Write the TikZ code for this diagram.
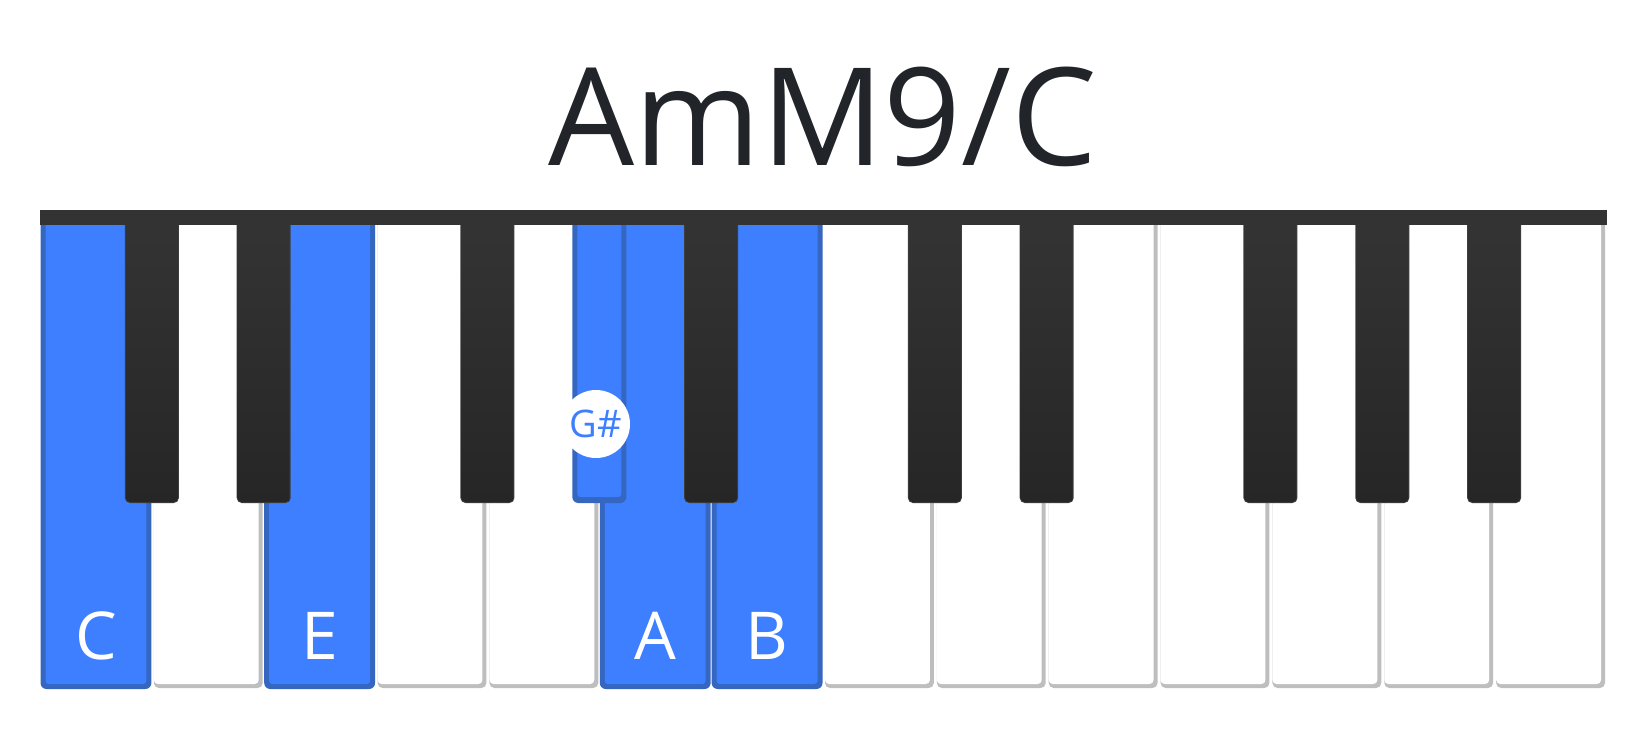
\documentclass[tikz,border=0pt]{standalone}
\usepackage{fontspec}
\setmainfont{Open Sans}
\usepackage{xcolor}
\usepackage{tikz}
\usetikzlibrary{calc}
\definecolor{keyblue}{RGB}{61,127,255}
\definecolor{keyrim}{RGB}{53,102,192}
\definecolor{keyshade}{RGB}{190,190,190}
\definecolor{ebony}{RGB}{38,38,38}
\definecolor{ebonytop}{RGB}{52,52,52}
\definecolor{ebonyrim}{RGB}{62,62,62}
\definecolor{felt}{RGB}{51,51,51}
\definecolor{titleink}{RGB}{33,37,41}

\begin{document}
\begin{tikzpicture}[x=1pt, y=-1pt,
    keylabel/.style={anchor=base, text=white, inner sep=0pt,
        font=\fontsize{66}{70}\selectfont},
    notedot/.style={circle, fill=white, minimum size=68pt, inner sep=0pt,
        text=keyblue, font=\fontsize{38}{40}\selectfont}]

    \useasboundingbox (0,0) rectangle (1650,740);

    %% Title
    \node[anchor=base, text=titleink, inner sep=0pt,
        font=\fontsize{136}{140}\selectfont] (title) at (823,165) {AmM9/C};

    %% --- White keys ---
    \foreach \k in {1,3,4,7,8,9,10,11,12,13} {
        \pgfmathsetmacro{\xa}{40+\k*111.857}
        \pgfmathsetmacro{\xb}{\xa+111.857}
        \fill[keyshade, rounded corners=5pt] (\xa+2,215) rectangle (\xb-1,688);
        \fill[white, rounded corners=4pt] (\xa+2,215) rectangle (\xb-5,684);
    }

    %% Chord tones on white keys
    \foreach \k in {0,2,5,6} {
        \pgfmathsetmacro{\xa}{40+\k*111.857}
        \pgfmathsetmacro{\xb}{\xa+111.857}
        \fill[keyrim, rounded corners=6pt] (\xa+0.5,215) rectangle (\xb-0.5,689);
        \fill[keyblue, rounded corners=3pt] (\xa+5.5,215) rectangle (\xb-5.5,684);
    }

    %% --- Black keys ---
    \foreach \b in {1,2,4,6,8,9,11,12,13} {
        \pgfmathsetmacro{\xm}{40+\b*111.857}
        \fill[ebonyrim, rounded corners=5pt] (\xm-27,215) rectangle (\xm+27,503);
        \shade[top color=ebonytop, bottom color=ebony, rounded corners=4pt]
            (\xm-26,215) rectangle (\xm+26,502);
    }

    %% G sharp
    \fill[keyrim, rounded corners=6pt] (572.3,215) rectangle (626.3,503);
    \fill[keyblue, rounded corners=3pt] (577.3,215) rectangle (621.3,497);

    %% Top felt
    \fill[felt] (40,210) rectangle (1607,225);

    %% Labels
    \foreach \k/\name in {0/C,2/E,5/A,6/B}
        \node[keylabel] (lab\name) at ({40+(\k+0.5)*111.857},659) {\name};
    \node[notedot] (labGs) at (596,424) {G\#};

\end{tikzpicture}
\end{document}
